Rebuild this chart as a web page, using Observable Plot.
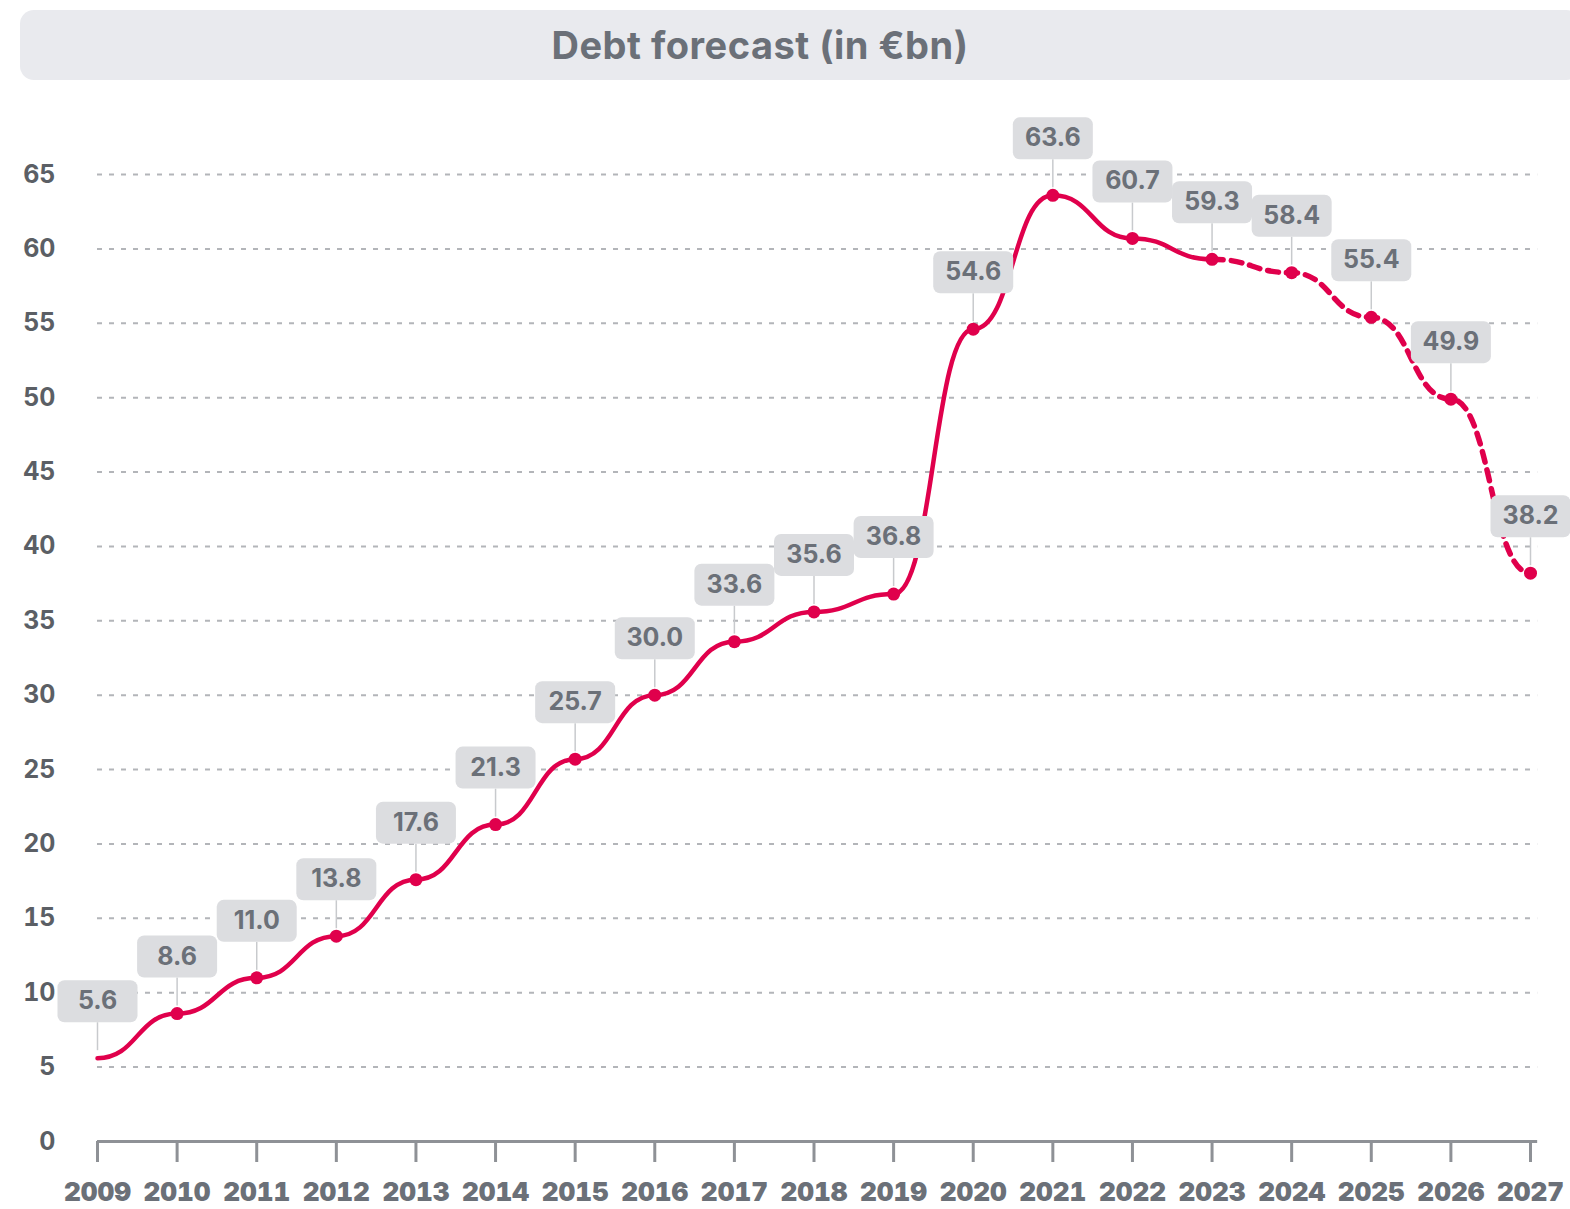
<!DOCTYPE html>
<html>
<head>
<meta charset="utf-8">
<script src="https://cdn.jsdelivr.net/npm/d3@7"></script>
<script src="https://cdn.jsdelivr.net/npm/@observablehq/plot@0.6"></script>
<style>
  html, body { margin: 0; padding: 0; background: #fff; width: 1570px; height: 1209px; overflow: hidden; }
  #title {
    position: absolute; left: 20px; top: 10px; width: 1560px; height: 70px;
    background: #e9eaee; border-radius: 14px;
    font-family: "Inter", "Lato", sans-serif; font-weight: 700; font-size: 38px; letter-spacing: 0.5px;
    color: #6b7078; line-height: 70px; text-align: center; box-sizing: border-box; padding-right: 80px;
  }
  #chart { position: absolute; left: 0; top: 92px; }
</style>
</head>
<body>
<div id="title">Debt forecast (in €bn)</div>
<div id="chart"></div>
<script>
// ---- data ----
const years = [2009, 2010, 2011, 2012, 2013, 2014, 2015, 2016, 2017, 2018, 2019, 2020, 2021, 2022, 2023, 2024, 2025, 2026, 2027];
const debt  = [5.6, 8.6, 11.0, 13.8, 17.6, 21.3, 25.7, 30.0, 33.6, 35.6, 36.8, 54.6, 63.6, 60.7, 59.3, 58.4, 55.4, 49.9, 38.2];
const lastActualYear = 2023;
const yTicks = [0, 5, 10, 15, 20, 25, 30, 35, 40, 45, 50, 55, 60, 65];

const data = years.map((y, i) => ({year: y, value: debt[i]}));
const actual = data.filter(d => d.year <= lastActualYear);
const forecast = data.filter(d => d.year >= lastActualYear);

const RED = "#e0004c";
const BOXFILL = "#dcdde0";
const TEXT = "#6b7078";

const boxSymbol = {
  draw(ctx) {
    const w = 80, h = 42, r = 7, x0 = -w / 2, y0 = -h / 2, x1 = w / 2, y1 = h / 2;
    ctx.moveTo(x0 + r, y0);
    ctx.lineTo(x1 - r, y0);
    ctx.arcTo(x1, y0, x1, y0 + r, r);
    ctx.lineTo(x1, y1 - r);
    ctx.arcTo(x1, y1, x1 - r, y1, r);
    ctx.lineTo(x0 + r, y1);
    ctx.arcTo(x0, y1, x0, y1 - r, r);
    ctx.lineTo(x0, y0 + r);
    ctx.arcTo(x0, y0, x0 + r, y0, r);
    ctx.closePath();
  }
};
const connectorSymbol = {
  draw(ctx) {
    ctx.moveTo(0, -8);
    ctx.lineTo(0, -36);
  }
};

const chart = Plot.plot({
  width: 1570,
  height: 1117,
  marginLeft: 97,
  marginRight: 40,
  marginTop: 82,
  marginBottom: 68,
  style: {fontFamily: "Inter, Lato, sans-serif", background: "transparent", overflow: "visible"},
  x: {domain: [2009, 2027]},
  y: {domain: [0, 65]},
  marks: [
    Plot.ruleY(yTicks.filter(t => t > 0), {x1: 2009, x2: 2027.09, stroke: "#b3b5b9", strokeWidth: 2, strokeDasharray: "5,7"}),
    Plot.ruleY([0], {x1: 2009, x2: 2027.09, stroke: "#8e9196", strokeWidth: 3}),
    Plot.axisY({
      ticks: yTicks, tickSize: 0, tickPadding: 42, tickFormat: d => String(d),
      fontSize: 25, fontWeight: 700, fill: "#5b5f65", label: null
    }),
    Plot.axisX({
      ticks: years, tickSize: 21, tickPadding: 20, tickFormat: d => String(d),
      stroke: "#8e9196", strokeWidth: 3, fontSize: 26, fontWeight: 900, fill: TEXT, label: null
    }),
    Plot.line(actual, {x: "year", y: "value", stroke: RED, strokeWidth: 4.5, curve: "bump-x"}),
    Plot.line(forecast, {x: "year", y: "value", stroke: RED, strokeWidth: 5.5, strokeDasharray: "11,8", curve: "bump-x"}),
    Plot.dot(data.filter(d => d.year > 2009), {x: "year", y: "value", r: 6.5, fill: RED}),
    Plot.dot(data, {x: "year", y: "value", symbol: connectorSymbol, fill: "none", stroke: "#c8cacd", strokeWidth: 1.5}),
    Plot.dot(data, {x: "year", y: "value", symbol: boxSymbol, fill: BOXFILL, dy: -57}),
    Plot.text(data, {x: "year", y: "value", text: d => d.value.toFixed(1), dy: -57, fill: TEXT, fontSize: 25, fontWeight: 700})
  ]
});
document.getElementById("chart").appendChild(chart);
</script>
</body>
</html>
